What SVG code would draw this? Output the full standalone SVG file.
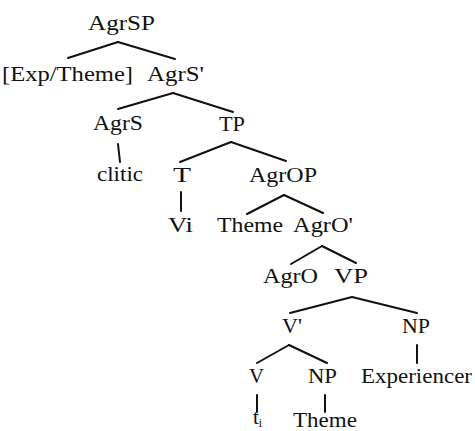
<svg xmlns="http://www.w3.org/2000/svg" width="475" height="431" viewBox="0 0 475 431">
<style>
text{font-family:"Liberation Serif","Times New Roman",serif;font-size:21px;fill:#111}
.e line{stroke:#111;stroke-width:2;stroke-linecap:round}
</style>
<rect width="475" height="431" fill="#fff"/>
<g class="e" id="connectors">
<line x1="118" y1="42" x2="68" y2="58"/><line x1="118" y1="42" x2="175" y2="59"/>
<line x1="173" y1="93" x2="118" y2="109"/><line x1="173" y1="93" x2="233" y2="112"/>
<line x1="118" y1="144" x2="120" y2="162"/>
<line x1="231" y1="142" x2="180" y2="162"/><line x1="231" y1="142" x2="286" y2="161"/>
<line x1="181" y1="192" x2="181" y2="211"/>
<line x1="284" y1="195" x2="247" y2="214"/><line x1="284" y1="195" x2="323" y2="213"/>
<line x1="322" y1="246" x2="291" y2="264"/><line x1="322" y1="246" x2="356" y2="263"/>
<line x1="352" y1="297" x2="290" y2="313"/><line x1="352" y1="297" x2="417" y2="313"/>
<line x1="417" y1="345" x2="417" y2="363"/>
<line x1="289" y1="345" x2="257" y2="363"/><line x1="289" y1="345" x2="327" y2="363"/>
<line x1="257" y1="395" x2="257" y2="412"/>
<line x1="325" y1="395" x2="325" y2="412"/>
</g>
<g id="agrsp"><text x="88" y="30" textLength="67" lengthAdjust="spacingAndGlyphs">AgrSP</text></g>
<g id="exptheme"><text x="2" y="81" textLength="131" lengthAdjust="spacingAndGlyphs">[Exp/Theme]</text></g>
<g id="agrsbar"><text x="147" y="81" textLength="57" lengthAdjust="spacingAndGlyphs">AgrS'</text></g>
<g id="agrs"><text x="93" y="130" textLength="50" lengthAdjust="spacingAndGlyphs">AgrS</text></g>
<g id="tp"><text x="219" y="131" textLength="26" lengthAdjust="spacingAndGlyphs">TP</text></g>
<g id="clitic"><text x="97" y="181" textLength="46" lengthAdjust="spacingAndGlyphs">clitic</text></g>
<g id="t"><text x="173" y="182" textLength="18" lengthAdjust="spacingAndGlyphs">T</text></g>
<g id="agrop"><text x="249" y="182" textLength="68" lengthAdjust="spacingAndGlyphs">AgrOP</text></g>
<g id="vi"><text x="168" y="232" textLength="25" lengthAdjust="spacingAndGlyphs">Vi</text></g>
<g id="theme1"><text x="217" y="232" textLength="66" lengthAdjust="spacingAndGlyphs">Theme</text></g>
<g id="agrobar"><text x="293" y="232" textLength="60" lengthAdjust="spacingAndGlyphs">AgrO'</text></g>
<g id="agro"><text x="263" y="283" textLength="55" lengthAdjust="spacingAndGlyphs">AgrO</text></g>
<g id="vp"><text x="334" y="283" textLength="34" lengthAdjust="spacingAndGlyphs">VP</text></g>
<g id="vbar"><text x="282" y="333" textLength="20" lengthAdjust="spacingAndGlyphs">V'</text></g>
<g id="np1"><text x="402" y="333" textLength="28" lengthAdjust="spacingAndGlyphs">NP</text></g>
<g id="v"><text x="249" y="383" textLength="15" lengthAdjust="spacingAndGlyphs">V</text></g>
<g id="np2"><text x="308" y="383" textLength="29" lengthAdjust="spacingAndGlyphs">NP</text></g>
<g id="experiencer"><text x="361" y="383" textLength="111" lengthAdjust="spacingAndGlyphs">Experiencer</text></g>
<g id="ti"><text x="253" y="424">t<tspan font-size="12" dy="3">i</tspan></text></g>
<g id="theme2"><text x="293" y="427" textLength="64" lengthAdjust="spacingAndGlyphs">Theme</text></g>
</svg>
